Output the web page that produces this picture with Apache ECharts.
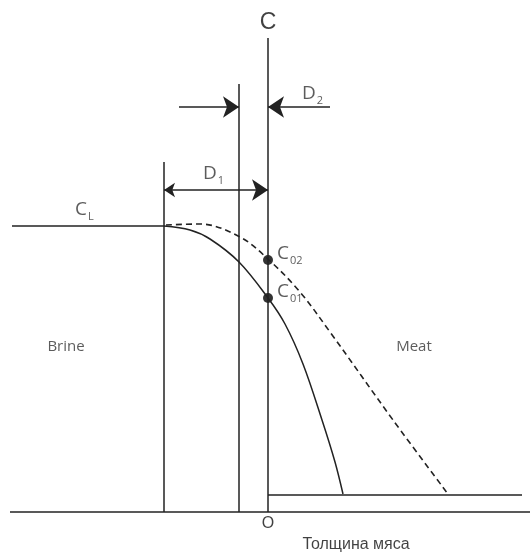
<!DOCTYPE html>
<html>
<head>
<meta charset="utf-8">
<script src="https://cdn.jsdelivr.net/npm/echarts@6/dist/echarts.min.js"></script>
<style>
  html, body { margin: 0; padding: 0; background: #fff; }
  #chart { width: 531px; height: 556px; }
</style>
</head>
<body>
<div id="chart"></div>
<script>
// координаты: x — расстояние от O, y — концентрация (условные единицы)
const solidCurve = [[-10.4, 28.6], [-7.8, 28.2], [-5.8, 27.3], [-2.9, 25.0], [0, 21.4], [1.7, 18.8],
  [3.5, 14.8], [5.4, 9.2], [6.7, 5.0], [7.5, 1.8]];
const dashedCurve = [[-10.2, 28.7], [-6.8, 28.8], [-2.8, 27.5], [0.1, 25.2], [3.2, 22.0], [6.2, 18.0],
  [12.5, 9.2], [18.0, 1.8]];
const brineLevel = [[-25.6, 28.6], [-10.4, 28.6]];
const meatLevel = [[0, 1.7], [25.4, 1.7]];
const baseLine = [[-25.8, 0], [26.2, 0]];
const cAxis = [[0, 0], [0, 47.4]];
const d1Line = [[-10.4, 0], [-10.4, 35.0]];
const d2Line = [[-2.9, 0], [-2.9, 42.8]];
const surfacePoints = [[0, 25.2], [0, 21.4]];
const arrowsOneWay = [[[-8.9, 40.5], [-2.9, 40.5]], [[6.2, 40.5], [0, 40.5]]];
const arrowsTwoWay = [[[-10.4, 32.2], [0, 32.2]]];

const subLabels = [
  { pos: [-19.3, 30.4], main: 'C', sub: 'L' },
  { pos: [-6.5, 34.0], main: 'D', sub: '1' },
  { pos: [3.4, 42.0], main: 'D', sub: '2' },
  { pos: [0.9, 26.0], main: 'C', sub: '02' },
  { pos: [0.9, 22.2], main: 'C', sub: '01' }
];
const plainLabels = [
  { pos: [-20.2, 16.5], text: 'Brine', kind: 'zone' },
  { pos: [14.6, 16.5], text: 'Meat', kind: 'zone' },
  { pos: [0, 48.9], text: 'C', kind: 'axisBig' },
  { pos: [0, -1.2], text: 'O', kind: 'axis' },
  { pos: [8.8, -3.3], text: 'Толщина мяса', kind: 'axis' }
];

const lineColor = '#222';
const textColor = '#333';

function segment(data, extra) {
  return Object.assign({
    type: 'line', data: data, symbol: 'none', silent: true,
    lineStyle: { color: lineColor, width: 1.5 }
  }, extra || {});
}

const kindStyle = {
  zone: { fontFamily: 'Open Sans', fontSize: 15, color: textColor },
  axis: { fontFamily: 'Liberation Sans', fontSize: 16, color: '#111' },
  axisBig: { fontFamily: 'Liberation Sans', fontSize: 23, color: '#111' }
};

const chart = echarts.init(document.getElementById('chart'));
chart.setOption({
  animation: false,
  grid: { left: 0, right: 0, top: 0, bottom: 0 },
  xAxis: { type: 'value', min: -26.8, max: 26.3, show: false },
  yAxis: { type: 'value', min: -4.4, max: 51.2, show: false },
  series: [
    segment(baseLine),
    segment(cAxis),
    segment(d1Line),
    segment(d2Line),
    segment(brineLevel),
    segment(meatLevel),
    segment(solidCurve, { smooth: 0.35 }),
    segment(dashedCurve, { smooth: 0.35, lineStyle: { color: lineColor, width: 1.6, type: [6, 4] } }),
    {
      type: 'lines', coordinateSystem: 'cartesian2d', silent: true,
      symbol: ['none', 'arrow'], symbolSize: [11, 16],
      lineStyle: { color: lineColor, width: 1.5, opacity: 1 },
      data: arrowsOneWay.map(c => ({ coords: c }))
    },
    {
      type: 'lines', coordinateSystem: 'cartesian2d', silent: true,
      symbol: ['arrow', 'arrow'], symbolSize: [11, 16],
      lineStyle: { color: lineColor, width: 1.5, opacity: 1 },
      data: arrowsTwoWay.map(c => ({ coords: c }))
    },
    {
      type: 'scatter', silent: true, symbolSize: 10,
      itemStyle: { color: '#000' },
      data: surfacePoints
    },
    {
      type: 'scatter', silent: true, symbolSize: 0, clip: false,
      data: subLabels.map(l => ({
        value: l.pos,
        label: {
          show: true, position: 'inside', align: 'left', verticalAlign: 'middle',
          formatter: '{m|' + l.main + '}{s|' + l.sub + '}',
          rich: {
            m: { fontFamily: 'Open Sans', fontSize: 19, color: textColor, verticalAlign: 'bottom', lineHeight: 22 },
            s: { fontFamily: 'Open Sans', fontSize: 11, color: textColor, verticalAlign: 'bottom', lineHeight: 15, padding: [0, 0, -3, 1] }
          }
        }
      }))
    },
    {
      type: 'scatter', silent: true, symbolSize: 0, clip: false,
      data: plainLabels.map(l => ({
        value: l.pos,
        label: Object.assign({
          show: true, position: 'inside', align: 'center', verticalAlign: 'middle',
          formatter: l.text
        }, kindStyle[l.kind])
      }))
    }
  ]
});
</script>
</body>
</html>
